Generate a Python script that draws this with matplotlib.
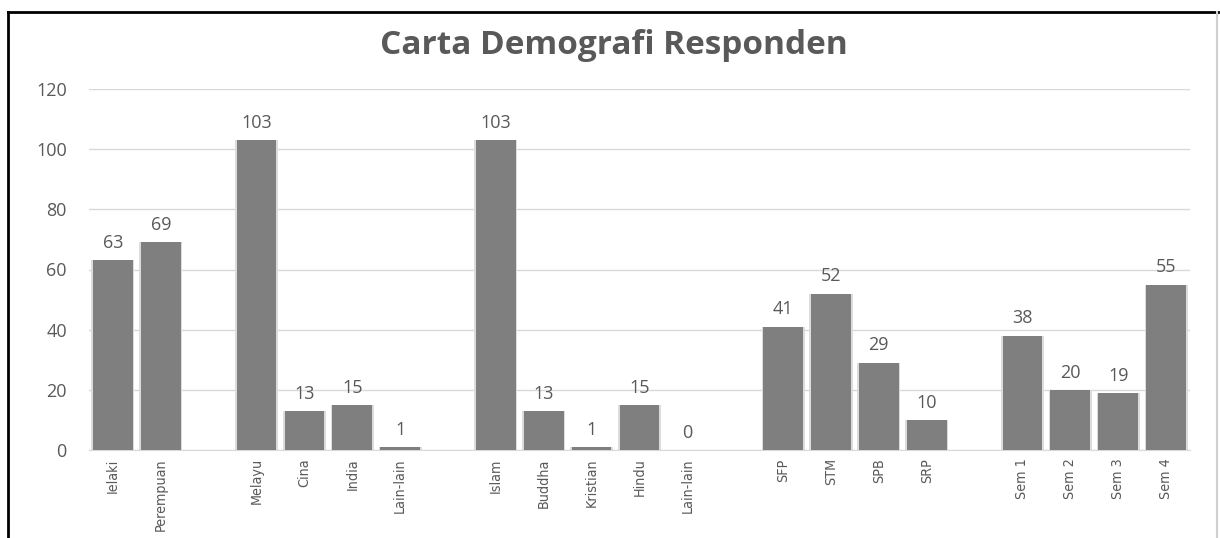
import matplotlib
matplotlib.use("Agg")
import matplotlib.pyplot as plt
from matplotlib.lines import Line2D

# data, one list per group
jantina = ["Ielaki", "Perempuan"]
jantina_val = [63, 69]
bangsa = ["Melayu", "Cina", "India", "Lain-lain"]
bangsa_val = [103, 13, 15, 1]
agama = ["Islam", "Buddha", "Kristian", "Hindu", "Lain-lain"]
agama_val = [103, 13, 1, 15, 0]
program = ["SFP", "STM", "SPB", "SRP"]
program_val = [41, 52, 29, 10]
semester = ["Sem 1", "Sem 2", "Sem 3", "Sem 4"]
semester_val = [38, 20, 19, 55]

groups = [(jantina, jantina_val), (bangsa, bangsa_val), (agama, agama_val),
          (program, program_val), (semester, semester_val)]

# lay out bars with one empty slot between groups
pos, labels, vals = [], [], []
i = 0
for names, values in groups:
    for n, v in zip(names, values):
        pos.append(i)
        labels.append(n)
        vals.append(v)
        i += 1
    i += 1
nslots = i - 1

grey_txt = "#595959"
fig = plt.figure(figsize=(12.2, 5.38), dpi=100)
ax = fig.add_axes([89/1220, 1-450/538, (1190-89)/1220, (450-89)/538])

# soft shadow behind the bars
ax.bar(pos, vals, width=0.9, color="#dcdcdc", zorder=2)
bars = ax.bar(pos, vals, width=0.83, color="#7f7f7f", zorder=3)

for x, v in zip(pos, vals):
    ax.annotate(str(v), (x, v), xytext=(0, 6), textcoords="offset points",
                ha="center", va="bottom", fontsize=13, color=grey_txt,
                family=["Open Sans", "DejaVu Sans"])

ax.set_xlim(-0.5, nslots - 0.5)
ax.set_ylim(0, 120)
ax.set_yticks(range(0, 121, 20))
ax.yaxis.grid(True, color="#d9d9d9", linewidth=1)
ax.set_axisbelow(True)
for s in ["top", "right", "left"]:
    ax.spines[s].set_visible(False)
ax.spines["bottom"].set_color("#d9d9d9")
ax.tick_params(axis="both", length=0)
ax.tick_params(axis="y", pad=16, labelsize=13, labelcolor=grey_txt)
for t in ax.get_yticklabels():
    t.set_family(["Open Sans", "DejaVu Sans"])

ax.set_xticks(pos)
ax.set_xticklabels(labels, rotation=90, fontsize=10.3, color=grey_txt,
                   family=["DejaVu Sans"], fontstretch="condensed")
ax.tick_params(axis="x", pad=6)

fig.text(0.503, 1-46/538, "Carta Demografi Responden", ha="center", va="center",
         fontsize=24, fontweight="bold", color=grey_txt,
         family=["Open Sans", "DejaVu Sans"])

# outer frame
W, H = 1220, 538
fig.add_artist(Line2D([8/W, 1218/W], [1-11.5/H, 1-11.5/H], color="black", lw=2))
fig.add_artist(Line2D([8/W, 8/W], [0, 1-11.5/H], color="black", lw=2))
fig.add_artist(Line2D([1217/W, 1217/W], [0, 1-11.5/H], color="#d0d0d0", lw=1.5))

fig.savefig("out.png", dpi=100)
